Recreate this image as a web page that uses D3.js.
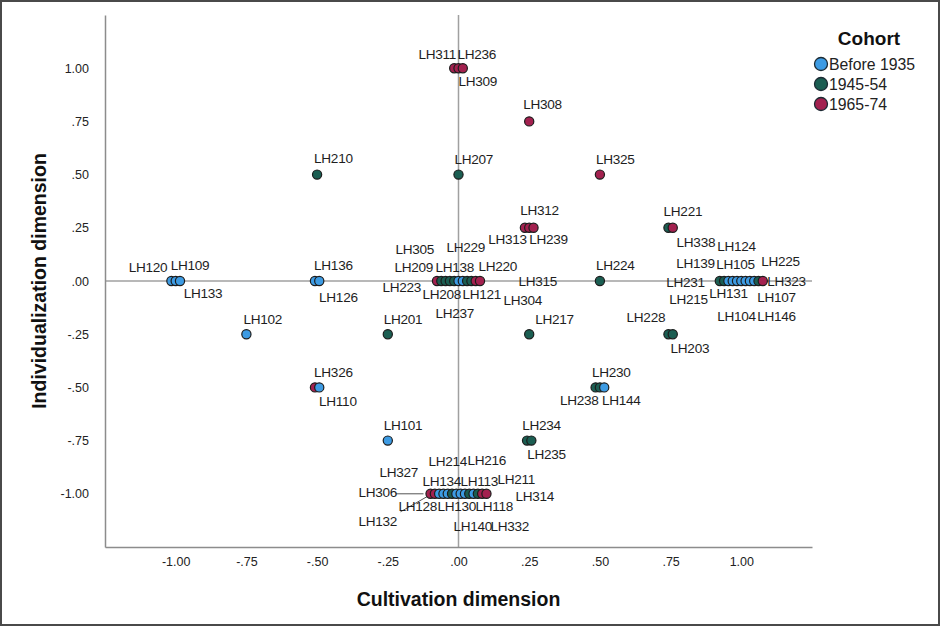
<!DOCTYPE html>
<html><head><meta charset="utf-8">
<script src="https://cdn.jsdelivr.net/npm/d3@7"></script>
<style>body{margin:0;background:#fff} svg{display:block}</style>
</head><body>
<svg id="chart" width="940" height="626"></svg>
<script>
// ---- DATA ----
const ids = [
  "LH311","LH236","LH309",
  "LH308","LH210","LH207","LH325",
  "LH313","LH312","LH239",
  "LH221","LH338",
  "LH120","LH109","LH133",
  "LH136","LH126",
  "LH305","LH209","LH223","LH208","LH229","LH138","LH121","LH237","LH220","LH304","LH315",
  "LH224",
  "LH231","LH215","LH139","LH131","LH124","LH105","LH104","LH146","LH107","LH225","LH323",
  "LH102","LH201","LH217",
  "LH228","LH203",
  "LH326","LH110",
  "LH238","LH230","LH144",
  "LH101",
  "LH234","LH235",
  "LH306","LH327","LH128","LH132","LH134","LH214","LH130","LH140","LH113","LH216","LH118","LH211","LH332","LH314"
];
const cultivation = [
  0,0,0,
  0.25,-0.5,0,0.5,
  0.25,0.25,0.25,
  0.75,0.75,
  -1,-1,-1,
  -0.5,-0.5,
  0,0,0,0,0,0,0,0,0,0,0,
  0.5,
  1,1,1,1,1,1,1,1,1,1,1,
  -0.75,-0.25,0.25,
  0.75,0.75,
  -0.5,-0.5,
  0.5,0.5,0.5,
  -0.25,
  0.25,0.25,
  0,0,0,0,0,0,0,0,0,0,0,0,0,0
];
const individualization = [
  1,1,1,
  0.75,0.5,0.5,0.5,
  0.25,0.25,0.25,
  0.25,0.25,
  0,0,0,
  0,0,
  0,0,0,0,0,0,0,0,0,0,0,
  0,
  0,0,0,0,0,0,0,0,0,0,0,
  -0.25,-0.25,-0.25,
  -0.25,-0.25,
  -0.5,-0.5,
  -0.5,-0.5,-0.5,
  -0.75,
  -0.75,-0.75,
  -1,-1,-1,-1,-1,-1,-1,-1,-1,-1,-1,-1,-1,-1
];
const cohort = [
  "1965-74","1965-74","1965-74",
  "1965-74","1945-54","1945-54","1965-74",
  "1965-74","1965-74","1965-74",
  "1945-54","1965-74",
  "Before 1935","Before 1935","Before 1935",
  "Before 1935","Before 1935",
  "1965-74","1945-54","1945-54","1945-54","1945-54","Before 1935","Before 1935","1945-54","1945-54","1965-74","1965-74",
  "1945-54",
  "1945-54","1945-54","Before 1935","Before 1935","Before 1935","Before 1935","Before 1935","Before 1935","Before 1935","1945-54","1965-74",
  "Before 1935","1945-54","1945-54",
  "1945-54","1945-54",
  "1965-74","Before 1935",
  "1945-54","1945-54","Before 1935",
  "Before 1935",
  "1945-54","1945-54",
  "1965-74","1965-74","Before 1935","Before 1935","Before 1935","1945-54","Before 1935","Before 1935","Before 1935","1945-54","Before 1935","1945-54","1965-74","1965-74"
];
const cohortNames = ["Before 1935","1945-54","1965-74"];
const tickValues = [-1,-0.75,-0.5,-0.25,0,0.25,0.5,0.75,1];
const xTickLabels = ["-1.00","-.75","-.50","-.25",".00",".25",".50",".75","1.00"];
const yTickLabels = ["-1.00","-.75","-.50","-.25",".00",".25",".50",".75","1.00"];

// ---- LAYOUT / STYLE ----
const W = 940, H = 626;
const colors = {"Before 1935":"#3d9be3","1945-54":"#1b5e52","1965-74":"#a3214f"};
// label offsets (px) from the group's centre: [dx, dy]
const labelPos = {
  LH311:[-40,-14], LH236:[-1,-14], LH309:[0,13],
  LH308:[-6,-17], LH210:[-3,-16], LH207:[-4,-15], LH325:[-4,-15],
  LH312:[-9,-17], LH313:[-41,12], LH239:[0,12],
  LH221:[-7,-16], LH338:[6,15],
  LH120:[-47,-14], LH109:[-5,-16], LH133:[8,12],
  LH136:[-3,-16], LH126:[2,16],
  LH305:[-63,-32], LH229:[-12,-34], LH209:[-64,-14], LH138:[-23,-14], LH220:[20,-15],
  LH223:[-76,6], LH315:[60,0], LH208:[-36,13], LH121:[4,13], LH304:[45,19], LH237:[-23,32],
  LH224:[-4,-16],
  LH124:[-24,-35], LH139:[-65,-18], LH105:[-25,-17], LH225:[20,-20], LH231:[-75,1], LH323:[26,0],
  LH215:[-72,18], LH131:[-32,12], LH107:[16,16], LH104:[-24,35], LH146:[16,35],
  LH102:[-3,-15], LH201:[-4,-15], LH217:[6,-15],
  LH228:[-44,-17], LH203:[0,14],
  LH326:[-3,-15], LH110:[2,14],
  LH230:[-8,-15], LH238:[-40,13], LH144:[2,13],
  LH101:[-4,-15], LH234:[-7,-15], LH235:[-2,14],
  LH214:[-30,-32], LH216:[9,-33], LH327:[-79,-21], LH134:[-36,-12], LH113:[2,-12], LH211:[39,-14],
  LH306:[-100,-1], LH314:[57,3], LH128:[-60,13], LH130:[-21,13], LH118:[17,13],
  LH132:[-100,28], LH140:[-5,33], LH332:[32,33]
};
// leader lines: [x1,y1,x2,y2] relative to group centre
const leaders = {LH306:[-63,0,-35,0], LH128:[-58,18,-30,2]};

const svg = d3.select("#chart");
svg.append("rect").attr("x",1).attr("y",1).attr("width",W-2).attr("height",H-2)
  .attr("fill","#fff").attr("stroke","#4a4a4a").attr("stroke-width",2);

const x = d3.scaleLinear().domain([-1.25,1.25]).range([105,812]);
const y = d3.scaleLinear().domain([-1.25,1.25]).range([547,15]);

// reference lines
svg.append("line").attr("x1",x(0)).attr("x2",x(0)).attr("y1",y(1.25)).attr("y2",y(-1.25))
  .attr("stroke","#a0a0a0").attr("stroke-width",1.5);
svg.append("line").attr("x1",x(-1.25)).attr("x2",x(1.25)).attr("y1",y(0)).attr("y2",y(0))
  .attr("stroke","#a0a0a0").attr("stroke-width",1.5);

// axes
const xAxis = d3.axisBottom(x).tickValues(tickValues).tickSize(0).tickSizeOuter(0).tickPadding(10)
  .tickFormat((d,i)=>xTickLabels[i]);
const yAxis = d3.axisLeft(y).tickValues(tickValues).tickSize(0).tickSizeOuter(0).tickPadding(16)
  .tickFormat((d,i)=>yTickLabels[i]);
const gx = svg.append("g").attr("transform",`translate(0,${y(-1.25)})`).call(xAxis);
const gy = svg.append("g").attr("transform",`translate(${x(-1.25)},0)`).call(yAxis);
[gx,gy].forEach(g=>{
  g.select(".domain").attr("stroke","#8c8c8c").attr("stroke-width",1.5);
  g.selectAll("text").attr("font-family","Arial, 'Liberation Sans', sans-serif")
    .attr("font-size",12.5).attr("fill","#222");
});

// axis titles
svg.append("text").attr("x",x(0)).attr("y",606).attr("text-anchor","middle")
  .attr("font-family","Arial, 'Liberation Sans', sans-serif").attr("font-weight","bold")
  .attr("font-size",19.5).attr("fill","#111").text("Cultivation dimension");
svg.append("text").attr("transform",`translate(46,${y(0)}) rotate(-90)`).attr("text-anchor","middle")
  .attr("font-family","Arial, 'Liberation Sans', sans-serif").attr("font-weight","bold")
  .attr("font-size",19.5).attr("fill","#111").text("Individualization dimension");

// build points with dodge for coincident values
const pts = ids.map((id,i)=>({id, cx:cultivation[i], cy:individualization[i], c:cohort[i]}));
const groups = d3.group(pts, d=>d.cx+"|"+d.cy);
const step = 4.3;
groups.forEach(arr=>{
  const n = arr.length;
  arr.forEach((d,i)=>{ d.off = (i-(n-1)/2)*step; });
});

// leader lines
const lg = svg.append("g");
Object.entries(leaders).forEach(([id,l])=>{
  const d = pts.find(p=>p.id===id);
  lg.append("line").attr("x1",x(d.cx)+l[0]).attr("y1",y(d.cy)+l[1])
    .attr("x2",x(d.cx)+l[2]).attr("y2",y(d.cy)+l[3])
    .attr("stroke","#555").attr("stroke-width",1);
});

// dots
svg.append("g").selectAll("circle").data(pts).join("circle")
  .attr("cx",d=>x(d.cx)+d.off).attr("cy",d=>y(d.cy)).attr("r",4.6)
  .attr("fill",d=>colors[d.c]).attr("stroke","#1c1c1c").attr("stroke-width",1.2);

// labels
svg.append("g").selectAll("text").data(pts).join("text")
  .attr("x",d=>x(d.cx)+labelPos[d.id][0]).attr("y",d=>y(d.cy)+labelPos[d.id][1])
  .attr("dominant-baseline","central")
  .attr("font-family","Arial, 'Liberation Sans', sans-serif").attr("font-size",13.6)
  .attr("fill","#1e1e1e").attr("letter-spacing",-0.3).text(d=>d.id);

// legend
const lgd = svg.append("g");
lgd.append("text").attr("x",869).attr("y",45).attr("text-anchor","middle")
  .attr("font-family","Arial, 'Liberation Sans', sans-serif").attr("font-weight","bold")
  .attr("font-size",19).attr("fill","#111").text("Cohort");
cohortNames.forEach((c,i)=>{
  const yy = 64 + i*20;
  lgd.append("circle").attr("cx",821).attr("cy",yy).attr("r",6.5)
    .attr("fill",colors[c]).attr("stroke","#1c2a33").attr("stroke-width",1.3);
  lgd.append("text").attr("x",829).attr("y",yy).attr("dominant-baseline","central")
    .attr("font-family","Arial, 'Liberation Sans', sans-serif").attr("font-size",15.8)
    .attr("fill","#222").text(c);
});
</script>
</body></html>
